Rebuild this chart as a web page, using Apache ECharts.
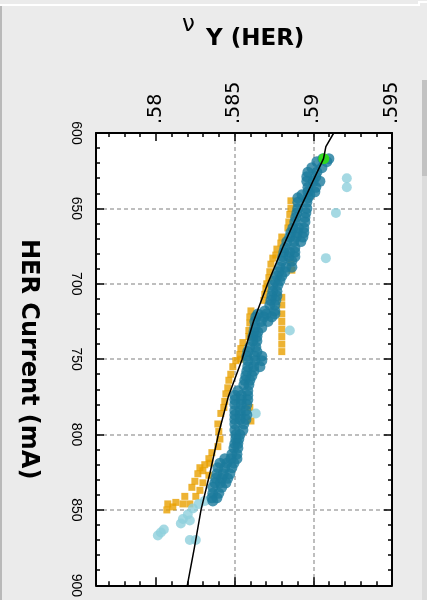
<!DOCTYPE html>
<html>
<head>
<meta charset="utf-8">
<script src="https://cdn.jsdelivr.net/npm/echarts@6/dist/echarts.min.js"></script>
<style>
html,body{margin:0;padding:0;background:#ebebeb;}
#c{width:427px;height:600px;}
</style>
</head>
<body>
<div id="c"></div>
<script>
// ---- axis ticks ----
const tuneMajorTicks = [0.58, 0.585, 0.59, 0.595];
const tuneMinorTicks = [0.577, 0.578, 0.579, 0.581, 0.582, 0.583, 0.584, 0.586, 0.587, 0.588, 0.589, 0.591, 0.592, 0.593, 0.594];
const tuneRange = [0.5762, 0.595];
const currentRange = [600, 900];
const currentStep = 50;

// ---- data: [tune νY, HER current mA] ----
const tealPoints = [
[0.59061,617],[0.59099,617],
[0.59023,619],[0.59086,619],
[0.58991,623],[0.59055,623],
[0.58966,626],[0.59023,626],
[0.58959,629],[0.59016,629],
[0.58959,632],[0.59000,632],[0.59042,632],
[0.58966,636],[0.59016,636],
[0.58966,639],[0.59010,639],
[0.58928,641],[0.58978,641],
[0.58902,643],[0.58966,643],
[0.58902,646],[0.58959,646],
[0.58902,650],[0.58959,650],
[0.58896,653],[0.58953,653],
[0.58889,656],[0.58947,656],
[0.58883,659],[0.58947,659],
[0.58870,663],[0.58905,663],[0.58940,663],
[0.58858,666],[0.58899,666],[0.58940,666],
[0.58851,669],[0.58892,669],[0.58934,669],
[0.58832,672],[0.58877,672],[0.58921,672],
[0.58820,676],[0.58883,676],
[0.58813,679],[0.58850,679],[0.58883,679],
[0.58807,682],[0.58845,682],[0.58883,682],
[0.58800,685],[0.58864,685],
[0.58788,689],[0.58826,689],[0.58864,689],
[0.58781,692],[0.58820,692],
[0.58769,695],[0.58800,695],
[0.58756,698],[0.58788,698],
[0.58743,701],[0.58775,701],
[0.58743,705],[0.58769,705],
[0.58737,708],[0.58769,708],
[0.58731,711],[0.58762,711],
[0.58724,714],[0.58756,714],
[0.58692,718],[0.58756,718],
[0.58648,720],[0.58702,720],[0.58756,720],
[0.58635,722],[0.58686,722],[0.58737,722],
[0.58629,725],[0.58670,725],[0.58712,725],
[0.58629,729],[0.58673,729],
[0.58623,732],[0.58648,732],
[0.58616,735],[0.58642,735],
[0.58616,738],[0.58642,738],
[0.58597,742],[0.58635,742],
[0.58584,745],[0.58642,745],
[0.58578,748],[0.58626,748],[0.58673,748],
[0.58584,751],[0.58629,751],[0.58673,751],
[0.58584,755],[0.58622,755],[0.58661,755],
[0.58578,758],[0.58623,758],
[0.58572,761],[0.58610,761],
[0.58565,764],[0.58597,764],
[0.58559,767],[0.58591,767],
[0.58521,771],[0.58584,771],
[0.58502,774],[0.58543,774],[0.58584,774],
[0.58502,777],[0.58543,777],[0.58584,777],
[0.58502,780],[0.58543,780],[0.58578,780],
[0.58502,784],[0.58537,784],[0.58572,784],
[0.58502,787],[0.58537,787],[0.58578,787],
[0.58502,790],[0.58537,790],[0.58572,790],
[0.58502,793],[0.58559,793],
[0.58502,797],[0.58553,797],
[0.58508,800],[0.58534,800],
[0.58508,803],[0.58527,803],
[0.58502,806],[0.58521,806],
[0.58496,809],[0.58521,809],
[0.58483,813],[0.58515,813],
[0.58438,816],[0.58477,816],[0.58515,816],
[0.58407,819],[0.58451,819],[0.58496,819],
[0.58394,822],[0.58438,822],[0.58483,822],
[0.58388,826],[0.58429,826],[0.58470,826],
[0.58381,829],[0.58419,829],[0.58457,829],
[0.58375,832],[0.58410,832],[0.58445,832],
[0.58362,835],[0.58419,835],
[0.58362,839],[0.58400,839],
[0.58356,842],[0.58388,842],
[0.58362,844]
];

const orangePoints = [
[0.58858,645],[0.58858,650],[0.58851,654],[0.58845,659],[0.58839,663],[0.58800,669],[0.58794,673],[0.58769,677],[0.58762,681],
[0.58743,683],[0.58731,687],[0.58724,692],[0.58718,696],[0.58705,700],[0.58699,703],[0.58692,707],[0.58686,711],
[0.58604,718],[0.58597,722],[0.58597,726],[0.58591,731],[0.58591,735],[0.58553,739],[0.58540,743],[0.58534,747],[0.58508,751],
[0.58864,691],[0.58858,686],
[0.58800,709],[0.58800,714],[0.58800,720],[0.58800,725],[0.58800,730],[0.58800,735],[0.58800,740],[0.58800,745],
[0.58540,750],[0.58489,755],[0.58476,760],[0.58464,764],[0.58457,769],[0.58445,773],[0.58438,778],[0.58432,782],[0.58413,786],
[0.58394,793],[0.58400,798],[0.58407,803],[0.58394,808],[0.58356,812],[0.58337,816],[0.58311,820],[0.58299,824],
[0.58597,782],[0.58604,791],
[0.58280,822],[0.58343,819],[0.58267,826],[0.58337,827],[0.58248,831],[0.58299,832],[0.58229,835],[0.58280,837],
[0.58184,841],[0.58254,841],[0.58172,846],[0.58216,846],[0.58076,846],[0.58108,848],[0.58070,850],[0.58127,845]
];

const lightPoints = [
[0.59213,630],[0.59213,636],[0.59144,653],[0.59080,683],[0.58851,731],[0.58635,786],
[0.58311,844],[0.58273,846],[0.58235,849],[0.58203,853],[0.58172,856],[0.58159,859],[0.58216,857],
[0.58013,867],[0.58051,863],[0.58032,865],[0.58216,870],[0.58254,870]
];

const fitLine = [
[0.5913,600],[0.5908,609],[0.59065,617],[0.58917,650],[0.5881,675],[0.5871,700],[0.5862,725],
[0.58548,750],[0.5846,775],[0.58397,800],[0.58345,825],[0.58287,850],[0.58245,875],[0.5820,900]
];

const greenPoint = [[0.59067,617]];

const titleMain = 'Y (HER)';
const titleNu = 'ν';
const yName = 'HER Current (mA)';

// ---- chart ----
const chart = echarts.init(document.getElementById('c'), null, {renderer: 'canvas'});
const black = '#000';
const gridDash = {color: '#a9a9a9', type: [4, 3], width: 1.5};
const fmtTune = v => v.toFixed(3).replace(/0+$/, '').replace(/^0/, '');

function tuneAxis(position, ticks, len, labels, split, line) {
  return {
    type: 'value', position: position, min: tuneRange[0], max: tuneRange[1],
    axisLine: {show: line, onZero: false, lineStyle: {color: black, width: 2}},
    axisTick: {show: true, inside: true, length: len, customValues: ticks, lineStyle: {color: black, width: 1.5}},
    axisLabel: labels ? {show: true, customValues: ticks, rotate: -90, margin: 9, formatter: fmtTune,
      color: black, fontSize: 19, fontFamily: 'DejaVu Sans'} : {show: false},
    splitLine: {show: split, showMinLine: false, showMaxLine: false, lineStyle: gridDash}
  };
}
function currentAxis(position, labels, split) {
  return {
    type: 'value', position: position, inverse: true, min: currentRange[0], max: currentRange[1], interval: currentStep,
    axisLine: {show: true, onZero: false, lineStyle: {color: black, width: 2}},
    axisTick: {show: true, inside: true, length: 8, lineStyle: {color: black, width: 1.5}},
    minorTick: {show: true, splitNumber: 5, length: 4, lineStyle: {color: black, width: 1.5}},
    axisLabel: labels ? {show: true, rotate: -90, margin: 13, color: black, fontSize: 14, fontFamily: 'Liberation Sans'} : {show: false},
    splitLine: {show: split, showMinLine: false, showMaxLine: false, lineStyle: gridDash},
    name: labels ? yName : '', nameLocation: 'middle', nameRotate: -90, nameGap: 56,
    nameTextStyle: {color: black, fontSize: 24, fontWeight: 'bold', fontFamily: 'DejaVu Sans'}
  };
}

const option = {
  animation: false,
  backgroundColor: '#ebebeb',
  title: [
    {left: 182, top: 14, padding: 0, text: titleNu,
     textStyle: {fontSize: 23, fontWeight: 'normal', fontFamily: 'DejaVu Sans', color: black}},
    {left: 206, top: 28, padding: 0, text: titleMain,
     textStyle: {fontSize: 23, fontWeight: 'bold', fontFamily: 'DejaVu Sans', color: black}}
  ],
  grid: {left: 96, top: 133, width: 296, height: 464, show: true, backgroundColor: '#fff', borderWidth: 0},
  xAxis: [
    tuneAxis('top', tuneMajorTicks, 8, true, true, true),
    tuneAxis('top', tuneMinorTicks, 4, false, false, false),
    tuneAxis('bottom', tuneMajorTicks, 8, false, false, true),
    tuneAxis('bottom', tuneMinorTicks, 4, false, false, false)
  ],
  yAxis: [
    currentAxis('left', true, true),
    currentAxis('right', false, false)
  ],
  graphic: [
    {type: 'polyline', shape: {points: [[0, 5], [419, 5], [419, 2], [427, 2]]}, style: {stroke: '#fff', lineWidth: 2, fill: null}},
    {type: 'line', shape: {x1: 1, y1: 6, x2: 1, y2: 600}, style: {stroke: '#a8a8a8', lineWidth: 1.5}},
    {type: 'rect', shape: {x: 422, y: 80, width: 5, height: 96}, style: {fill: '#c2c2c2'}},
    {type: 'rect', shape: {x: 422, y: 176, width: 5, height: 424}, style: {fill: '#dcdcdc'}}
  ],
  series: [
    {type: 'scatter', data: orangePoints, symbol: 'rect', symbolSize: 7, itemStyle: {color: '#e8a000'}, silent: true},
    {type: 'scatter', data: lightPoints, symbol: 'circle', symbolSize: 10, itemStyle: {color: '#8ecfdc'}, silent: true},
    {type: 'scatter', data: tealPoints, symbol: 'circle', symbolSize: 11, itemStyle: {color: '#1b7a9c'}, silent: true},
    {type: 'line', data: fitLine, showSymbol: false, lineStyle: {color: black, width: 1.5}, silent: true},
    {type: 'scatter', data: greenPoint, symbol: 'circle', symbolSize: 11, itemStyle: {color: '#33ee00'}, silent: true}
  ]
};
chart.setOption(option);
</script>
</body>
</html>
